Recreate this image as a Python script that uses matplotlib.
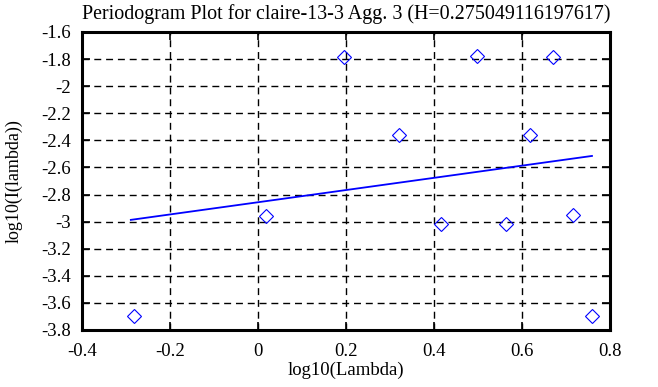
import numpy as np
import matplotlib
matplotlib.use('Agg')
import matplotlib.pyplot as plt

# datos
log_lambda = [-0.282, 0.018, 0.195, 0.320, 0.416, 0.498, 0.564, 0.618, 0.670, 0.716, 0.759]
log_i = [-3.696, -2.958, -1.785, -2.360, -3.017, -1.777, -3.017, -2.360, -1.785, -2.950, -3.696]
fit_x = [-0.289, 0.759]
fit_y = [-2.987, -2.515]

x_ticks = [-0.4, -0.2, 0, 0.2, 0.4, 0.6, 0.8]
y_ticks = [-1.6, -1.8, -2, -2.2, -2.4, -2.6, -2.8, -3, -3.2, -3.4, -3.6, -3.8]

plt.rcParams['font.family'] = ['Liberation Serif', 'DejaVu Serif']

fig = plt.figure(figsize=(6.58, 3.87), dpi=100)
ax = fig.add_axes([82/658, 57/387, 528/658, 298/387])

ax.plot(log_lambda, log_i, linestyle='none', marker='D', markersize=7.5,
        markerfacecolor='none', markeredgecolor='#0000ff', markeredgewidth=0.8)
ax.plot(fit_x, fit_y, color='#0000ff', linewidth=1.3)

ax.set_xlim(-0.4, 0.8)
ax.set_ylim(-3.8, -1.6)
ax.set_xticks(x_ticks)
ax.set_xticklabels([f'{t:g}' for t in x_ticks])
ax.set_yticks(y_ticks)
ax.set_yticklabels([f'{t:g}' for t in y_ticks])
ax.grid(True, color='black', linestyle=(0, (5, 3.5)), linewidth=1)
ax.tick_params(direction='in', length=6, width=1.2, top=True, right=True, labelsize=13.5)
ax.tick_params(axis='x', pad=9)
ax.tick_params(axis='y', pad=8)
for s in ax.spines.values():
    s.set_linewidth(2.2)

ax.set_title('Periodogram Plot for claire-13-3 Agg. 3 (H=0.275049116197617)', fontsize=14.4, pad=9)
ax.set_xlabel('log10(Lambda)', fontsize=13.5)
ax.set_ylabel('log10(I(lambda))', fontsize=13)
ax.xaxis.set_label_coords(0.5, -0.105)
ax.yaxis.set_label_coords(-0.112, 0.5)

fig.savefig('out.png', dpi=100)
